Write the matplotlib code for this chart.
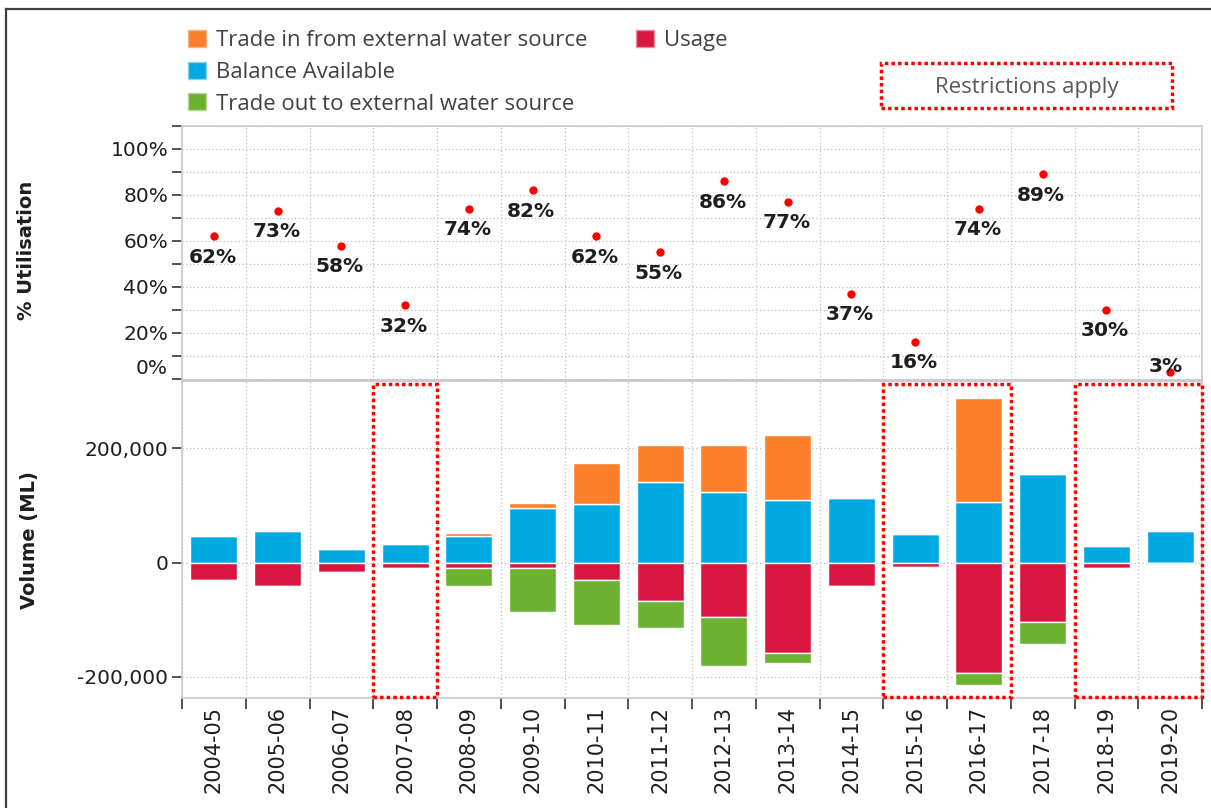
import matplotlib
matplotlib.use("Agg")
import matplotlib.pyplot as plt
from matplotlib.patches import Patch, Rectangle
from matplotlib.lines import Line2D
import matplotlib.transforms as mtransforms
import numpy as np

years = ['2004-05', '2005-06', '2006-07', '2007-08', '2008-09', '2009-10', '2010-11', '2011-12',
         '2012-13', '2013-14', '2014-15', '2015-16', '2016-17', '2017-18', '2018-19', '2019-20']
balance = [46800, 55600, 24000, 32700, 46800, 95300, 103500, 140900,
           124000, 110000, 112300, 49700, 107000, 155000, 29800, 55600]
trade_in = [0, 0, 0, 0, 5000, 9000, 71400, 65500,
            82400, 113400, 0, 0, 181900, 0, 0, 0]
usage = [30400, 41500, 15800, 10000, 10000, 10000, 29800, 67800,
         95900, 158500, 41500, 7600, 192400, 104100, 10000, 0]
trade_out = [0, 0, 0, 0, 31500, 76500, 79500, 47400,
             84800, 16400, 0, 0, 22200, 39200, 0, 0]
utilisation = [62, 73, 58, 32, 74, 82, 62, 55, 86, 77, 37, 16, 74, 89, 30, 3]
restricted = [('2007-08', '2007-08'), ('2015-16', '2016-17'), ('2018-19', '2019-20')]

c_in, c_bal, c_out, c_use = '#FD7F2C', '#00A9E2', '#6CB12F', '#D7173F'
grid_c = '#BDBDBD'
spine_c = '#C8C8C8'
txt_c = '#1E1E1E'

W, H = 1211, 808
fig = plt.figure(figsize=(W / 100, H / 100), dpi=100)


def fx(px):
    return px / W


def fy(py):
    return 1 - py / H


x = np.arange(len(years))
ax_top = fig.add_axes([fx(182), fy(380), fx(1202) - fx(182), fy(126) - fy(380)])
ax_bot = fig.add_axes([fx(182), fy(698), fx(1202) - fx(182), fy(381) - fy(698)])

for ax in (ax_top, ax_bot):
    ax.set_xlim(-0.5, len(years) - 0.5)
    for s in ax.spines.values():
        s.set_color(spine_c)
        s.set_linewidth(1.2)
    ax.set_xticks(x + 0.5, minor=True)
    ax.grid(True, which='minor', axis='x', color=grid_c, linestyle=(0, (1, 2)), linewidth=0.9)
    ax.tick_params(axis='y', which='both', direction='out', length=7, width=1.2,
                   color='#333333', labelcolor=txt_c, labelsize=14.5, pad=3)
    ax.set_axisbelow(True)

# top panel: utilisation
ax_top.set_ylim(-0.5, 110)
ax_top.set_yticks(np.arange(0, 101, 20))
ax_top.set_yticklabels([f'{v}%' for v in range(0, 101, 20)])
ax_top.set_yticks(np.arange(10, 111, 20), minor=True)
ax_top.grid(True, which='both', axis='y', color=grid_c, linestyle=(0, (1, 2)), linewidth=0.9)
ax_top.tick_params(axis='x', which='both', length=0, labelbottom=False)
ax_top.plot(x, utilisation, 'o', color='#FF0000', markersize=5, zorder=3, linestyle='none')
for i, v in enumerate(utilisation):
    off = (-3, 4) if v < 10 else (-1, -15)
    ax_top.annotate(f'{v}%', (i, v), xytext=off, textcoords='offset points',
                    ha='center', va='center', fontsize=14.5, fontweight='bold', color=txt_c,
                    annotation_clip=False, zorder=4)
# nudge the 0% label up as in the source
for lab in ax_top.get_yticklabels():
    if lab.get_text() == '0%':
        lab.set_transform(lab.get_transform() + mtransforms.ScaledTranslation(0, 12 / 100, fig.dpi_scale_trans))

# bottom panel: volumes
bw = 0.74
kw = dict(width=bw, edgecolor='white', linewidth=1, zorder=2)
ax_bot.bar(x, balance, color=c_bal, **kw)
ax_bot.bar(x, trade_in, bottom=balance, color=c_in, **kw)
neg_use = [-u for u in usage]
ax_bot.bar(x, neg_use, color=c_use, **kw)
ax_bot.bar(x, [-t for t in trade_out], bottom=neg_use, color=c_out, **kw)
ax_bot.set_ylim(-237000, 318000)
ax_bot.set_yticks([-200000, 0, 200000])
ax_bot.set_yticklabels(['-200,000', '0', '200,000'])
ax_bot.grid(True, which='major', axis='y', color=grid_c, linestyle=(0, (1, 2)), linewidth=0.9)
ax_bot.set_xticks(x)
ax_bot.set_xticklabels(years, rotation=90, fontsize=15, color=txt_c)
ax_bot.tick_params(axis='x', which='major', length=0, pad=6)
ax_bot.tick_params(axis='x', which='minor', direction='out', length=8, width=1.2, color='#333333')
ax_bot.set_xticks([-0.5] + list(x + 0.5), minor=True)

trans = mtransforms.blended_transform_factory(ax_bot.transData, ax_bot.transAxes)
for a, b in restricted:
    i0, i1 = years.index(a), years.index(b)
    ax_bot.add_patch(Rectangle((i0 - 0.5, 0.003), i1 - i0 + 1, 0.987, transform=trans,
                               fill=False, edgecolor='#FF0000', linewidth=2.5,
                               linestyle=(0, (1, 0.9)), zorder=5, clip_on=False))

# axis titles
fig.text(fx(27), fy(250), '% Utilisation', rotation=90, ha='center', va='center',
         fontsize=14, fontweight='bold', color=txt_c)
fig.text(fx(30), fy(540), 'Volume (ML)', rotation=90, ha='center', va='center',
         fontsize=14, fontweight='bold', color=txt_c)

# legend
blank = Patch(facecolor='none', edgecolor='none')
handles = [Patch(facecolor=c_in, edgecolor='#FDB080'), Patch(facecolor=c_bal, edgecolor='#80D4F0'),
           Patch(facecolor=c_out, edgecolor='#B5D897'), Patch(facecolor=c_use, edgecolor='#EB8B9F'),
           blank, blank]
labels = ['Trade in from external water source', 'Balance Available',
          'Trade out to external water source', 'Usage', '', '']
leg = fig.legend(handles, labels, ncol=2, loc='upper left', bbox_to_anchor=(fx(188), fy(30)),
                 frameon=False, prop={'family': 'Open Sans', 'size': 15.9},
                 borderaxespad=0, borderpad=0,
                 handlelength=0.82, handleheight=0.82, handletextpad=0.45,
                 labelspacing=0.47, columnspacing=2.2)
for t in leg.get_texts():
    t.set_color('#404040')

# restrictions key
fig.patches.append(Rectangle((fx(881), fy(108)), fx(1172) - fx(881), fy(63) - fy(108),
                             transform=fig.transFigure, fill=False, edgecolor='#FF0000',
                             linewidth=2.5, linestyle=(0, (1, 0.9))))
fig.text(fx(1027), fy(87), 'Restrictions apply', ha='center', va='center',
         fontsize=16, family='Open Sans', color='#595959')

# outer frame
fig.lines.append(Line2D([fx(6), 1], [fy(9), fy(9)], transform=fig.transFigure, color='#404040', linewidth=1.6))
fig.lines.append(Line2D([fx(6), fx(6)], [fy(9), 0], transform=fig.transFigure, color='#404040', linewidth=1.6))

fig.savefig('out.png', dpi=100)
